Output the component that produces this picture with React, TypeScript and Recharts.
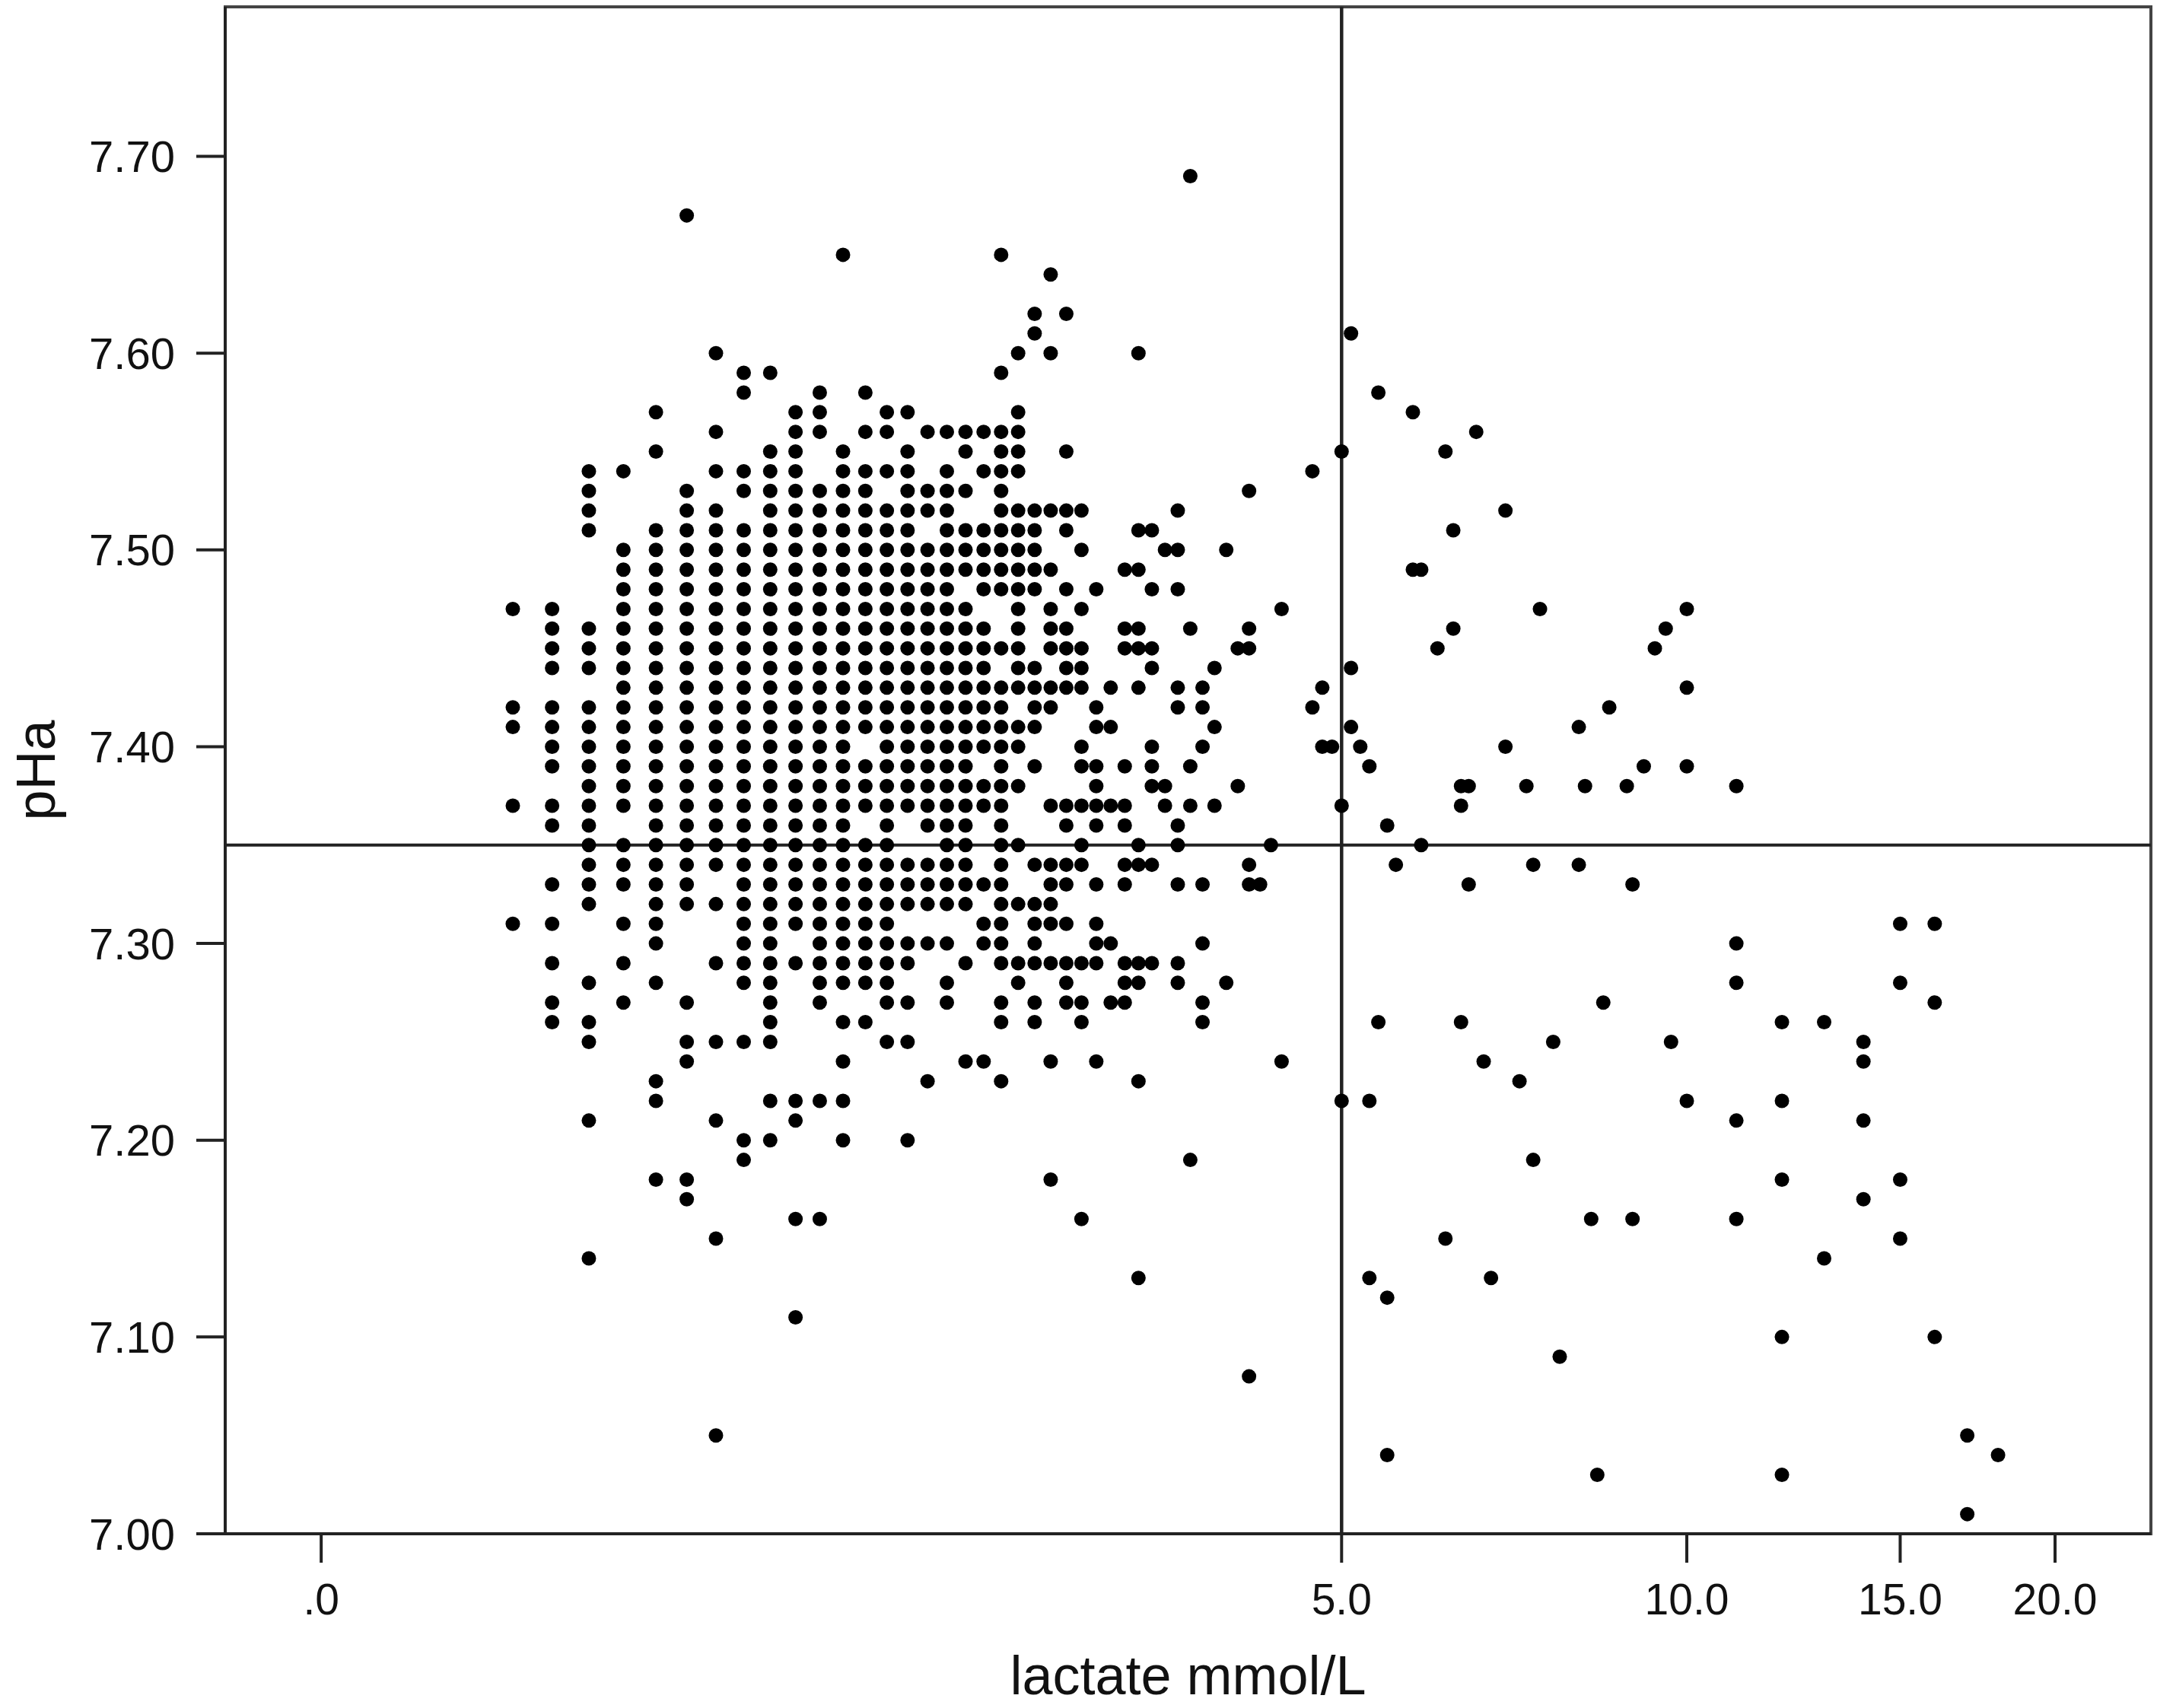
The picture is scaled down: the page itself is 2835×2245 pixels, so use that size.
import React from 'react';
import {
  ScatterChart,
  Scatter,
  XAxis,
  YAxis,
  ReferenceLine,
  ReferenceArea,
} from 'recharts';

// lactate (mmol/L) of each column of dots
const lactateLevels: number[] = [
  0.4, 0.5, 0.6, 0.7, 0.8, 0.9, 1.0, 1.1, 1.2, 1.3, 1.4, 1.5, 1.6, 1.7, 1.8, 1.9,
  2.0, 2.1, 2.2, 2.3, 2.4, 2.5, 2.6, 2.7, 2.8, 2.9, 3.0, 3.1, 3.2, 3.3, 3.4, 3.5,
  3.6, 3.7, 3.8, 3.9, 4.0, 4.1, 4.2, 4.3, 4.4, 4.7, 4.8, 4.9, 5.0, 5.1, 5.2, 5.3,
  5.4, 5.5, 5.6, 5.8, 5.9, 6.1, 6.2, 6.3, 6.4, 6.5, 6.6, 6.7, 6.8, 7.0, 7.2, 7.3,
  7.4, 7.5, 7.7, 7.8, 8.1, 8.2, 8.3, 8.4, 8.5, 8.6, 8.9, 9.0, 9.2, 9.4, 9.6, 9.7,
  10.0, 11.0, 12.0, 13.0, 14.0, 15.0, 16.0, 17.0, 18.0,
];

// pHa values of each column, written as hundredths above 7 (e.g. "47" = 7.47)
const phaByLactate: string[] = [
  '47 42 41 37 31',
  '47 46 45 44 42 41 40 39 37 36 33 31 29 27 26',
  '54 53 52 51 46 45 44 42 41 40 39 38 37 36 35 34 33 32 28 26 25 21 14',
  '54 50 49 48 47 46 45 44 43 42 41 40 39 38 37 35 34 33 31 29 27',
  '57 55 51 50 49 48 47 46 45 44 43 42 41 40 39 38 37 36 35 34 33 32 31 30 28 23 22 18',
  '67 53 52 51 50 49 48 47 46 45 44 43 42 41 40 39 38 37 36 35 34 33 32 27 25 24 18 17',
  '60 56 54 52 51 50 49 48 47 46 45 44 43 42 41 40 39 38 37 36 35 34 32 29 25 21 15 05',
  '59 58 54 53 51 50 49 48 47 46 45 44 43 42 41 40 39 38 37 36 35 34 33 32 31 30 29 28 25 20 19',
  '59 55 54 53 52 51 50 49 48 47 46 45 44 43 42 41 40 39 38 37 36 35 34 33 32 31 30 29 28 27 26 25 22 20',
  '57 56 55 54 53 52 51 50 49 48 47 46 45 44 43 42 41 40 39 38 37 36 35 34 33 32 31 29 22 21 16 11',
  '58 57 56 53 52 51 50 49 48 47 46 45 44 43 42 41 40 39 38 37 36 35 34 33 32 31 30 29 28 27 22 16',
  '65 55 54 53 52 51 50 49 48 47 46 45 44 43 42 41 40 39 38 37 36 35 34 33 32 31 30 29 28 26 24 22 20',
  '58 56 54 53 52 51 50 49 48 47 46 45 44 43 42 41 39 38 37 35 34 33 32 31 30 29 28 26',
  '57 56 54 52 51 50 49 48 47 46 45 44 43 42 41 40 39 38 37 36 35 34 33 32 31 30 29 28 27 25',
  '57 55 54 53 52 51 50 49 48 47 46 45 44 43 42 41 40 39 38 37 34 33 32 30 29 27 25 20',
  '56 53 52 50 49 48 47 46 45 44 43 42 41 40 39 38 37 36 34 33 32 30 23',
  '56 54 53 52 51 50 49 48 47 46 45 44 43 42 41 40 39 38 37 36 35 34 33 32 30 28 27',
  '56 55 53 51 50 49 47 46 45 44 43 42 41 40 39 38 37 36 35 34 33 32 29 24',
  '56 54 51 50 49 48 46 45 44 43 42 41 40 38 37 33 31 30 24',
  '65 59 56 55 54 53 52 51 50 49 48 45 43 42 41 40 39 38 37 36 35 34 33 32 31 30 29 27 26 23',
  '60 57 56 55 54 52 51 50 49 48 47 46 45 44 43 41 40 38 35 32 29 28',
  '62 61 52 51 50 49 48 44 43 42 41 39 34 32 31 30 29 27 26',
  '64 60 52 49 47 46 45 43 42 37 34 33 32 31 29 24 18',
  '62 55 52 51 48 46 45 44 43 37 36 34 33 31 29 28 27',
  '52 50 47 45 44 43 40 39 37 35 34 29 27 26 16',
  '48 42 41 39 38 37 36 33 31 30 29 24',
  '43 41 37 30 27',
  '49 46 45 39 37 36 34 33 29 28 27',
  '60 51 49 46 45 43 35 34 29 28 23 13',
  '51 48 45 44 40 39 38 34 29',
  '50 38 37',
  '52 50 48 43 42 36 35 33 29 28',
  '69 46 39 37 19',
  '43 42 40 33 30 27 26',
  '44 41 37',
  '50 28',
  '45 38',
  '53 46 45 34 33 08',
  '33',
  '35',
  '47 24',
  '54 42',
  '43 40',
  '40',
  '55 37 22',
  '61 44 41',
  '40',
  '39 22 13',
  '58 26',
  '36 12 04',
  '34',
  '57 49',
  '49 35',
  '45',
  '55 15',
  '51 46',
  '38 37 26',
  '38 33',
  '56',
  '24',
  '13',
  '52 40',
  '23',
  '38',
  '34 19',
  '47',
  '25',
  '09',
  '41 34',
  '38',
  '16',
  '03',
  '27',
  '42',
  '38',
  '33 16',
  '39',
  '45',
  '46',
  '25',
  '47 43 39 22',
  '38 30 28 21 16',
  '26 22 18 10 03',
  '26 14',
  '25 24 21 17',
  '31 28 18 15',
  '31 27 10',
  '05 01',
  '04',
];

// axis ticks
const xTickValues: number[] = [0, 5, 10, 15, 20];
const xTickLabels: string[] = ['.0', '5.0', '10.0', '15.0', '20.0'];
const yTickValues: number[] = [7.0, 7.1, 7.2, 7.3, 7.4, 7.5, 7.6, 7.7];

// cut-off lines
const lactateCutoff = 5.0;
const phaCutoff = 7.35;

// axis ranges (lactate range is in mmol/L, drawn on a log(1 + x) scale)
const lactateRange: [number, number] = [-0.1551, 23.85];
const phaRange: [number, number] = [7.0, 7.776];

const toScale = (v: number) => Math.log1p(v);

const points = lactateLevels.flatMap((lac, i) =>
  phaByLactate[i]
    .trim()
    .split(/\s+/)
    .map((h) => ({ lactate: lac, u: toScale(lac), pha: 7 + parseInt(h, 10) / 100 }))
);

const FONT = '"Liberation Sans", Arial, Helvetica, sans-serif';

const Dot = (props: any) => {
  const { cx, cy } = props;
  if (cx == null || cy == null) return null;
  return <circle cx={cx} cy={cy} r={9.5} fill="#000" />;
};

const formatX = (u: number) => {
  const v = Math.expm1(u);
  const i = xTickValues.findIndex((t) => Math.abs(t - v) < 1e-6);
  return i >= 0 ? xTickLabels[i] : '';
};

export default function App() {
  const xDomain: [number, number] = [toScale(lactateRange[0]), toScale(lactateRange[1])];
  return (
    <div style={{ position: 'absolute', left: 0, top: 0, width: 2835, height: 2245, background: '#fff' }}>
      <ScatterChart
        width={2835}
        height={2245}
        margin={{ top: 9, right: 8, bottom: 0, left: 0 }}
        style={{ fontFamily: FONT }}
      >
        <XAxis
          type="number"
          dataKey="u"
          domain={xDomain}
          allowDataOverflow
          ticks={xTickValues.map(toScale)}
          tickFormatter={formatX}
          height={229}
          tickSize={38}
          tickMargin={28}
          axisLine={{ stroke: '#222', strokeWidth: 4 }}
          tickLine={{ stroke: '#222', strokeWidth: 4 }}
          tick={{ fontSize: 57, fill: '#111', fontFamily: FONT }}
          label={{
            value: 'lactate mmol/L',
            position: 'insideBottom',
            offset: 18,
            fontSize: 72,
            fill: '#111',
            fontFamily: FONT,
          }}
        />
        <YAxis
          type="number"
          dataKey="pha"
          domain={phaRange}
          allowDataOverflow
          ticks={yTickValues}
          tickFormatter={(v: number) => v.toFixed(2)}
          width={296}
          tickSize={38}
          tickMargin={28}
          axisLine={{ stroke: '#222', strokeWidth: 4 }}
          tickLine={{ stroke: '#222', strokeWidth: 4 }}
          tick={{ fontSize: 58, fill: '#111', fontFamily: FONT }}
          label={{
            value: 'pHa',
            angle: -90,
            position: 'insideLeft',
            offset: 46,
            fontSize: 72,
            fill: '#111',
            fontFamily: FONT,
            style: { textAnchor: 'middle' },
          }}
        />
        <ReferenceArea
          x1={xDomain[0]}
          x2={xDomain[1]}
          y1={phaRange[0]}
          y2={phaRange[1]}
          fill="none"
          fillOpacity={0}
          stroke="#444"
          strokeWidth={4}
          ifOverflow="visible"
        />
        <ReferenceLine x={toScale(lactateCutoff)} stroke="#222" strokeWidth={4.5} />
        <ReferenceLine y={phaCutoff} stroke="#222" strokeWidth={4} />
        <Scatter data={points} shape={<Dot />} isAnimationActive={false} />
      </ScatterChart>
    </div>
  );
}
